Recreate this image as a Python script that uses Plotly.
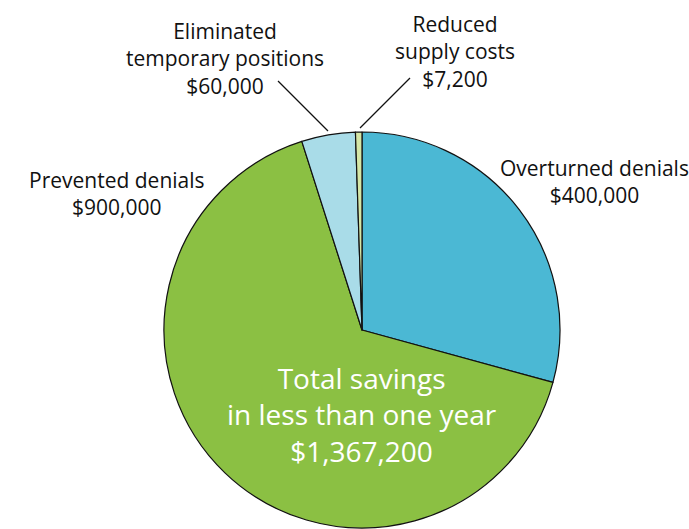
import plotly.graph_objects as go

categories = ["Overturned denials", "Prevented denials", "Eliminated temporary positions", "Reduced supply costs"]
values = [400000, 900000, 60000, 7200]
colors = ["#4BB8D4", "#8BC043", "#A9DCE8", "#D5E6A6"]
label_texts = ["Overturned denials<br>$400,000", "Prevented denials<br>$900,000",
               "Eliminated<br>temporary positions<br>$60,000", "Reduced<br>supply costs<br>$7,200"]
center_text = "Total savings<br>in less than one year<br>$1,367,200"

W, H = 689, 529
FONT = "Open Sans"

def px(x, y):
    return x / W, 1 - y / H

dx0, dy1 = px(164, 132)
dx1, dy0 = px(560, 528)
fig = go.Figure(go.Pie(
    labels=categories, values=values, sort=False, direction="clockwise", rotation=0,
    marker=dict(colors=colors, line=dict(color="#111111", width=1.2)),
    textinfo="none", hoverinfo="label+value", showlegend=False,
    domain=dict(x=[dx0, dx1], y=[dy0, dy1]),
))

label_pos = [(594, 182), (117, 194), (225, 59), (455, 51)]
for txt, (x, y) in zip(label_texts, label_pos):
    xx, yy = px(x, y)
    fig.add_annotation(x=xx, y=yy, xref="paper", yref="paper", text=txt, showarrow=False,
                       font=dict(family=FONT, size=21, color="#111111"), align="center",
                       xanchor="center", yanchor="middle")

cx, cy = px(362, 414)
fig.add_annotation(x=cx, y=cy, xref="paper", yref="paper", text=center_text, showarrow=False,
                   font=dict(family=FONT, size=28, color="white"), align="center",
                   xanchor="center", yanchor="middle")

leaders = [((278, 81), (328, 131)), ((410, 78), (360, 128))]
for (x0, y0), (x1, y1) in leaders:
    a0, b0 = px(x0, y0)
    a1, b1 = px(x1, y1)
    fig.add_shape(type="line", xref="paper", yref="paper", x0=a0, y0=b0, x1=a1, y1=b1,
                  line=dict(color="#111111", width=1.2))

fig.update_layout(width=W, height=H, margin=dict(l=0, r=0, t=0, b=0),
                  paper_bgcolor="white", plot_bgcolor="white")
fig.write_html("out.html", config={"displayModeBar": False},
               post_script="document.body.style.margin='0';document.body.style.overflow='hidden';")
